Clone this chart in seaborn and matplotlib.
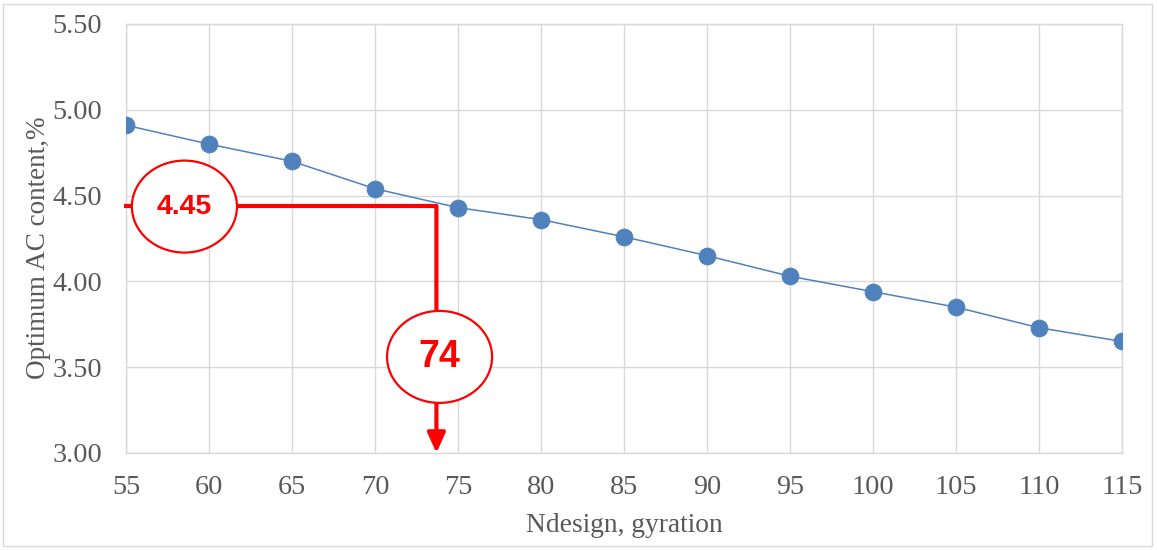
import matplotlib
matplotlib.use("Agg")
import matplotlib.pyplot as plt
import seaborn as sns
import pandas as pd
from matplotlib.patches import Ellipse, Rectangle

# ---- data ----
ndesign = [55, 60, 65, 70, 75, 80, 85, 90, 95, 100, 105, 110, 115]
opt_ac = [4.91, 4.80, 4.70, 4.54, 4.43, 4.36, 4.26, 4.15, 4.03, 3.94, 3.85, 3.73, 3.65]
x_ticks = [55, 60, 65, 70, 75, 80, 85, 90, 95, 100, 105, 110, 115]
y_ticks = [3.00, 3.50, 4.00, 4.50, 5.00, 5.50]
read_x = 73.7
read_y = 4.44
label_ac = "4.45"
label_n = "74"

sns.set_theme(style="whitegrid")
plt.rcParams['font.family'] = ['Liberation Serif', 'DejaVu Serif']

fig = plt.figure(figsize=(11.57, 5.5), dpi=100)
ax = fig.add_axes([126/1157, 1-453/550, (1122-126)/1157, (453-24)/550])

df = pd.DataFrame({"Ndesign": ndesign, "AC": opt_ac})
sns.lineplot(data=df, x="Ndesign", y="AC", ax=ax, color="#4F81BD", linewidth=1.1,
             marker="o", markersize=12, markeredgecolor="#4F81BD", markerfacecolor="#4F81BD",
             zorder=3)

ax.set_xlim(55, 115)
ax.set_ylim(3.0, 5.5)
ax.set_xticks(x_ticks)
ax.set_yticks(y_ticks)
ax.set_xticklabels([str(v) for v in x_ticks])
ax.set_yticklabels([f"{v:.2f}" for v in y_ticks])
ax.tick_params(axis="both", labelsize=20.3, labelcolor="#595959", length=0)
ax.tick_params(axis="x", pad=16)
ax.tick_params(axis="y", pad=17)
ax.grid(True, color="#D9D9D9", linewidth=1.0)
for s in ax.spines.values():
    s.set_visible(True)
    s.set_color("#D9D9D9")
    s.set_linewidth(1.0)
ax.set_xlabel("Ndesign, gyration", fontsize=19.8, color="#595959", labelpad=9)
ax.set_ylabel("Optimum AC content,%", fontsize=19.5, color="#595959")
ax.yaxis.set_label_coords(-0.075, 0.478)

red = "#FF0000"
# horizontal reading line
ax.plot([54.85, read_x], [read_y, read_y], color=red, linewidth=3, clip_on=False, zorder=4,
        solid_capstyle="butt")
# vertical arrow
ax.annotate("", xy=(read_x, 3.0), xytext=(read_x, read_y),
            arrowprops=dict(arrowstyle="-|>,head_width=0.45,head_length=1.0", color=red, lw=3,
                            shrinkA=0, shrinkB=0),
            zorder=4, annotation_clip=False)

e1 = Ellipse((58.52, 4.436), width=6.33, height=0.536, facecolor="white", edgecolor=red,
             linewidth=1.6, zorder=5)
e2 = Ellipse((73.89, 3.56), width=6.33, height=0.536, facecolor="white", edgecolor=red,
             linewidth=1.6, zorder=5)
ax.add_patch(e1)
ax.add_patch(e2)
ax.text(58.52, 4.436, label_ac, ha="center", va="center", fontsize=20.5, fontweight="bold",
        color=red, family=["Liberation Sans", "DejaVu Sans"], zorder=6)
ax.text(73.89, 3.56, label_n, ha="center", va="center", fontsize=27, fontweight="bold",
        color=red, family=["Liberation Sans", "DejaVu Sans"], zorder=6)

fig.patches.append(Rectangle((3/1157, 4/550), 1149/1157, 542/550, transform=fig.transFigure,
                             fill=False, edgecolor="#D9D9D9", linewidth=1.0))

fig.savefig("out.png", dpi=100)
